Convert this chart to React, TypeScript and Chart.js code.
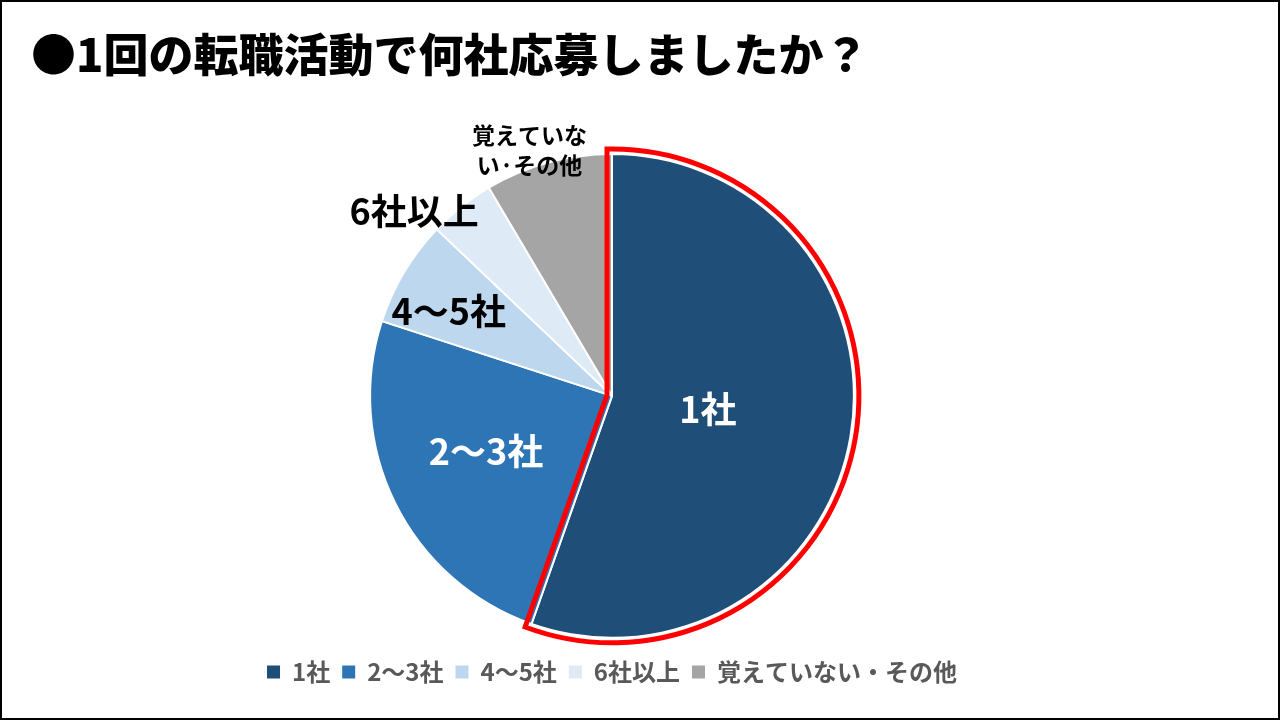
import { useEffect, useRef } from "react";
import { Chart, registerables } from "chart.js";

Chart.register(...registerables);

const FONT = "'Noto Sans CJK JP', 'Noto Sans', sans-serif";

const titleText = "●1回の転職活動で何社応募しましたか？";
const categories = ["1社", "2〜3社", "4〜5社", "6社以上", "覚えていない・その他"];
const shares = [55.4, 24.6, 7.1, 4.4, 8.5];
const sliceLabels = [["1社"], ["2〜3社"], ["4〜5社"], ["6社以上"], ["覚えていな", "い·その他"]];
const sliceColors = ["#1F4E79", "#2E75B6", "#BDD7EE", "#DEEBF7", "#A5A5A5"];

// label placement style: fraction of radius, angular shift (deg), colour, font size
const labelStyle = [
  { rf: 0.4, shift: -1.5, color: "#FFFFFF", size: 36, lh: 34 },
  { rf: 0.57, shift: 2.4, color: "#FFFFFF", size: 36, lh: 34 },
  { rf: 0.76, shift: -3.4, color: "#000000", size: 36, lh: 34 },
  { rf: 1.12, shift: -8.4, color: "#000000", size: 36, lh: 34 },
  { rf: 1.07, shift: -3.3, color: "#000000", size: 23, lh: 30 },
];

const highlightPlugin = {
  id: "highlightAndLabels",
  afterDatasetsDraw(chart: any) {
    const meta = chart.getDatasetMeta(0);
    const ctx: CanvasRenderingContext2D = chart.ctx;
    // red outline around first slice
    const a: any = meta.data[0];
    const p = a.getProps(["x", "y", "startAngle", "endAngle", "outerRadius"], true);
    const d = 5;
    const R = p.outerRadius + d;
    const t0 = p.startAngle;
    const t1 = p.endAngle;
    const n0 = [Math.sin(t0), -Math.cos(t0)];
    const n1 = [-Math.sin(t1), Math.cos(t1)];
    const det = n0[0] * n1[1] - n0[1] * n1[0];
    const qx = (d * n1[1] - n0[1] * d) / det;
    const qy = (n0[0] * d - d * n1[0]) / det;
    const delta = Math.asin(d / R);
    ctx.save();
    ctx.beginPath();
    ctx.moveTo(p.x + qx, p.y + qy);
    ctx.lineTo(p.x + R * Math.cos(t0 - delta), p.y + R * Math.sin(t0 - delta));
    ctx.arc(p.x, p.y, R, t0 - delta, t1 + delta, false);
    ctx.closePath();
    ctx.strokeStyle = "#FF0000";
    ctx.lineWidth = 5;
    ctx.lineJoin = "miter";
    ctx.stroke();
    ctx.restore();

    // slice labels
    meta.data.forEach((arc: any, i: number) => {
      const q = arc.getProps(["x", "y", "startAngle", "endAngle", "outerRadius"], true);
      const st = labelStyle[i];
      const mid = (q.startAngle + q.endAngle) / 2 + (st.shift * Math.PI) / 180;
      const cx = q.x + Math.cos(mid) * q.outerRadius * st.rf;
      const cy = q.y + Math.sin(mid) * q.outerRadius * st.rf;
      const lines = sliceLabels[i];
      ctx.save();
      ctx.font = `bold ${st.size}px ${FONT}`;
      ctx.fillStyle = st.color;
      ctx.textAlign = "center";
      ctx.textBaseline = "middle";
      lines.forEach((ln, k) => {
        const yy = cy + (k - (lines.length - 1) / 2) * st.lh;
        ctx.fillText(ln, cx, yy);
      });
      ctx.restore();
    });
  },
};

export default function App() {
  const ref = useRef<HTMLCanvasElement>(null);
  useEffect(() => {
    if (!ref.current) return;
    const chart = new Chart(ref.current, {
      type: "pie",
      data: {
        labels: categories,
        datasets: [
          {
            data: shares,
            backgroundColor: sliceColors,
            borderColor: "#FFFFFF",
            borderWidth: 2,
          },
        ],
      },
      options: {
        animation: false,
        responsive: false,
        maintainAspectRatio: false,
        layout: { padding: { top: 153, bottom: 26, left: 0, right: 56 } },
        plugins: {
          tooltip: { enabled: false },
          title: { display: false },
          legend: {
            position: "bottom",
            title: {
              display: true,
              text: "",
              font: { size: 1 },
              padding: { top: 8, bottom: 0 },
            },
            labels: {
              font: { family: FONT, size: 24, weight: "bold" },
              color: "#595959",
              boxWidth: 13,
              boxHeight: 13,
              padding: 12,
              generateLabels: (c: any) =>
                (Chart as any).overrides.pie.plugins.legend.labels
                  .generateLabels(c)
                  .map((l: any) => ({ ...l, lineWidth: 0, strokeStyle: "rgba(0,0,0,0)" })),
            },
          },
        },
      },
      plugins: [highlightPlugin],
    });
    return () => chart.destroy();
  }, []);

  return (
    <div
      style={{
        position: "fixed",
        left: 0,
        top: 0,
        width: 1280,
        height: 720,
        background: "#FFFFFF",
        overflow: "hidden",
      }}
    >
      <canvas ref={ref} width={1280} height={720} style={{ position: "absolute", left: 0, top: 0 }} />
      <div
        style={{
          position: "absolute",
          left: 31,
          top: 24,
          fontFamily: FONT,
          fontWeight: 900,
          fontSize: 45,
          lineHeight: "58px",
          color: "#000000",
          whiteSpace: "nowrap",
        }}
      >
        {titleText}
      </div>
      <div
        style={{
          position: "absolute",
          left: 0,
          top: 0,
          width: 1280,
          height: 720,
          boxSizing: "border-box",
          border: "2px solid #000000",
          pointerEvents: "none",
        }}
      />
    </div>
  );
}
